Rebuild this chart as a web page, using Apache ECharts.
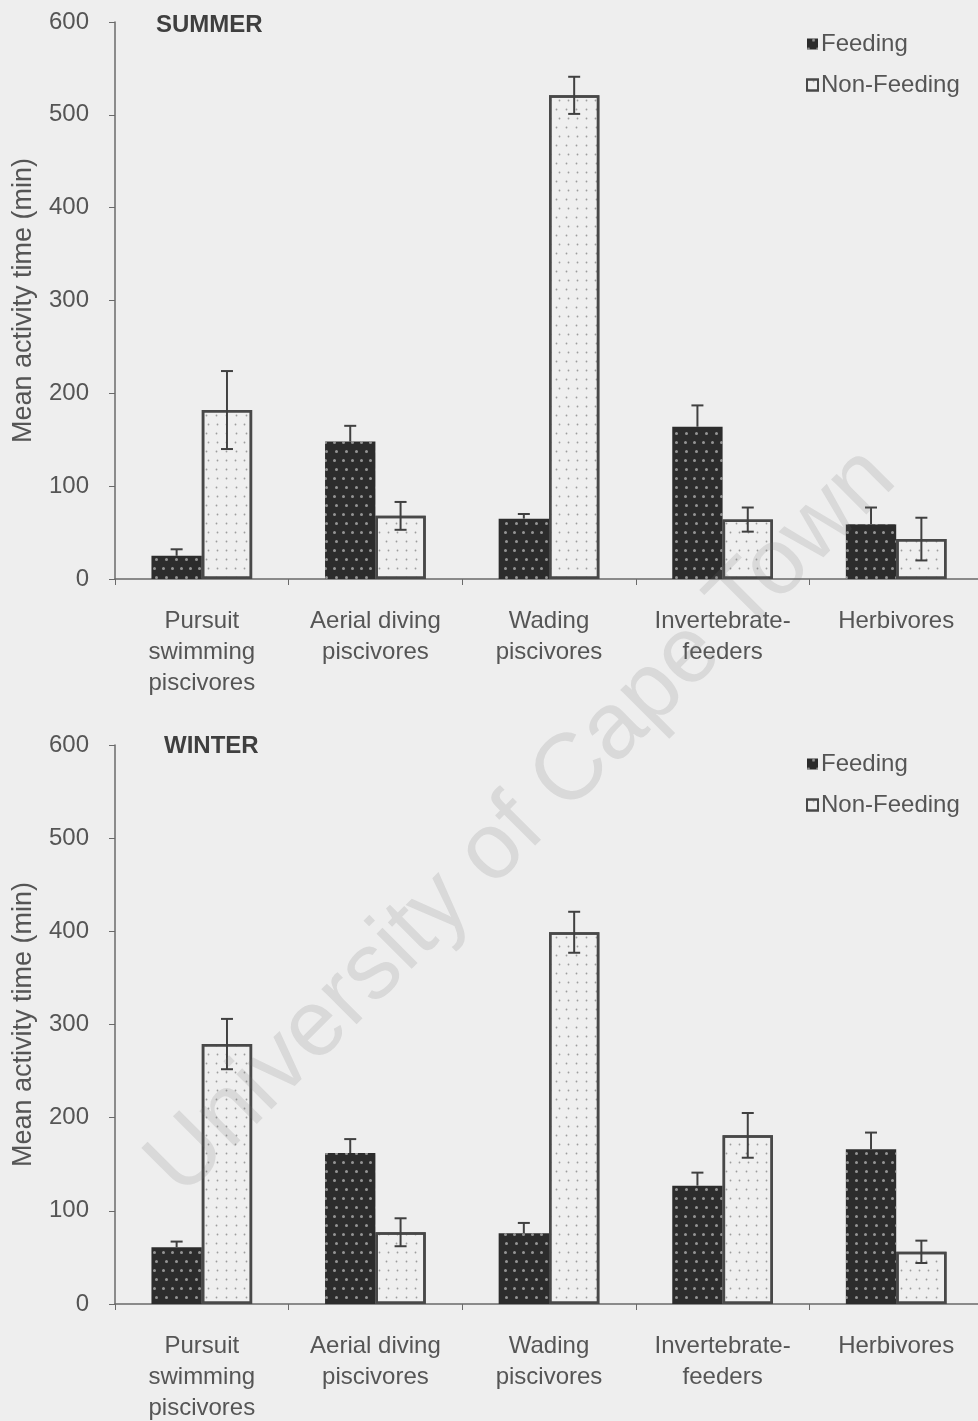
<!DOCTYPE html>
<html>
<head>
<meta charset="utf-8">
<script src="https://cdn.jsdelivr.net/npm/echarts@6/dist/echarts.min.js"></script>
<style>
  html, body { margin: 0; padding: 0; background: #eeeeee; }
  #chart { width: 978px; height: 1421px; }
</style>
</head>
<body>
<div id="chart"></div>
<script>
// Guild categories (x axis)
const categories = [
  'Pursuit\nswimming\npiscivores',
  'Aerial diving\npiscivores',
  'Wading\npiscivores',
  'Invertebrate-\nfeeders',
  'Herbivores'
];
const yTicks = [0, 100, 200, 300, 400, 500, 600];

// Summer: mean activity time (min) and error
const summerFeeding = [25, 148, 65, 164, 59];
const summerFeedingErr = [7, 17, 5, 23, 18];
const summerNonFeeding = [182, 68, 521, 64, 43];
const summerNonFeedingErr = [42, 15, 20, 13, 23];

// Winter: mean activity time (min) and error
const winterFeeding = [61, 162, 76, 127, 166];
const winterFeedingErr = [6, 15, 11, 14, 18];
const winterNonFeeding = [279, 77, 399, 181, 56];
const winterNonFeedingErr = [27, 15, 22, 24, 12];

const FONT = 'Liberation Sans, Arial, sans-serif';
const TEXT = '#555';
const AXIS = '#6a6a6a';
const CAT_GAP = 0.42;

const feedingStyle = {
  color: '#2c2c2c',
  decal: {
    symbol: 'circle',
    symbolSize: 1,
    color: 'rgba(205,205,205,0.65)',
    dashArrayX: [[3, 6], [0, 4.5, 3, 1.5]],
    dashArrayY: [3, 6]
  }
};
const nonFeedingStyle = {
  color: '#efefef',
  borderColor: '#484848',
  borderWidth: 2.5,
  decal: {
    symbol: 'circle',
    symbolSize: 0.6,
    color: 'rgba(90,90,90,0.55)',
    dashArrayX: [[3, 6], [0, 4.5, 3, 1.5]],
    dashArrayY: [3, 6]
  }
};

function errData(values, errs) {
  return values.map((v, i) => [i, v, errs[i]]);
}

// side: -1 left bar (Feeding, upper whisker only), +1 right bar (both whiskers)
function errorSeries(idx, values, errs, side) {
  return {
    type: 'custom',
    xAxisIndex: idx,
    yAxisIndex: idx,
    z: 5,
    silent: true,
    data: errData(values, errs),
    encode: { x: 0, y: 1 },
    renderItem: function (params, api) {
      const i = api.value(0);
      const v = api.value(1);
      const e = api.value(2);
      const band = api.size([1, 0])[0];
      const off = side * band * (1 - CAT_GAP) / 4;
      const top = api.coord([i, v + e]);
      const low = api.coord([i, side < 0 ? v : v - e]);
      const x = top[0] + off;
      const cap = 6;
      const st = { stroke: '#404040', lineWidth: 2 };
      const children = [
        { type: 'line', shape: { x1: x, y1: top[1], x2: x, y2: low[1] }, style: st },
        { type: 'line', shape: { x1: x - cap, y1: top[1], x2: x + cap, y2: top[1] }, style: st }
      ];
      if (side > 0) {
        children.push({ type: 'line', shape: { x1: x - cap, y1: low[1], x2: x + cap, y2: low[1] }, style: st });
      }
      return { type: 'group', children: children };
    }
  };
}

function xAxis(idx) {
  return {
    type: 'category',
    gridIndex: idx,
    data: categories,
    axisLine: { lineStyle: { color: AXIS, width: 1.5 } },
    axisTick: { show: true, length: 6, lineStyle: { color: AXIS } },
    axisLabel: {
      interval: 0, margin: 27, color: TEXT,
      fontFamily: FONT, fontSize: 24, lineHeight: 31
    }
  };
}

function yAxis(idx) {
  return {
    type: 'value',
    gridIndex: idx,
    min: yTicks[0],
    max: yTicks[yTicks.length - 1],
    interval: yTicks[1] - yTicks[0],
    name: 'Mean activity time (min)',
    nameLocation: 'middle',
    nameGap: 78,
    nameTextStyle: { color: TEXT, fontFamily: FONT, fontSize: 27 },
    axisLine: { show: true, lineStyle: { color: AXIS, width: 1.5 } },
    axisTick: { show: true, length: 6, lineStyle: { color: AXIS } },
    splitLine: { show: false },
    axisLabel: { color: TEXT, fontFamily: FONT, fontSize: 24, margin: 26 }
  };
}

function legend(top) {
  return {
    orient: 'vertical',
    left: 801,
    top: top,
    itemWidth: 11,
    itemHeight: 11,
    itemGap: 17,
    icon: 'rect',
    textStyle: { color: TEXT, fontFamily: FONT, fontSize: 24, padding: [0, 0, 0, -2] },
    data: ['Feeding', 'Non-Feeding']
  };
}

function barSeries(name, idx, data, style) {
  return {
    name: name,
    type: 'bar',
    xAxisIndex: idx,
    yAxisIndex: idx,
    barGap: '0%',
    barCategoryGap: (CAT_GAP * 100) + '%',
    itemStyle: style,
    data: data
  };
}

const chart = echarts.init(document.getElementById('chart'), null, { renderer: 'canvas' });
chart.setOption({
  backgroundColor: '#eeeeee',
  animation: false,
  title: [
    { text: 'SUMMER', left: 151, top: 8, textStyle: { color: '#3f3f3f', fontFamily: FONT, fontSize: 24, fontWeight: 'bold' } },
    { text: 'WINTER', left: 159, top: 729, textStyle: { color: '#3f3f3f', fontFamily: FONT, fontSize: 24, fontWeight: 'bold' } }
  ],
  legend: [legend(27), legend(747)],
  grid: [
    { left: 115, top: 22, width: 868, height: 557, outerBoundsMode: 'none', containLabel: false },
    { left: 115, top: 745, width: 868, height: 559, outerBoundsMode: 'none', containLabel: false }
  ],
  xAxis: [xAxis(0), xAxis(1)],
  yAxis: [yAxis(0), yAxis(1)],
  series: [
    barSeries('Feeding', 0, summerFeeding, feedingStyle),
    barSeries('Non-Feeding', 0, summerNonFeeding, nonFeedingStyle),
    barSeries('Feeding', 1, winterFeeding, feedingStyle),
    barSeries('Non-Feeding', 1, winterNonFeeding, nonFeedingStyle),
    errorSeries(0, summerFeeding, summerFeedingErr, -1),
    errorSeries(0, summerNonFeeding, summerNonFeedingErr, 1),
    errorSeries(1, winterFeeding, winterFeedingErr, -1),
    errorSeries(1, winterNonFeeding, winterNonFeedingErr, 1)
  ],
  graphic: [
    {
      type: 'text',
      x: 522,
      y: 822,
      rotation: Math.PI / 4,
      z: 100,
      silent: true,
      style: {
        text: 'University of Cape Town',
        fontFamily: FONT,
        fontSize: 94,
        fill: 'rgba(110,110,110,0.17)',
        align: 'center',
        verticalAlign: 'middle'
      }
    }
  ]
});
</script>
</body>
</html>
